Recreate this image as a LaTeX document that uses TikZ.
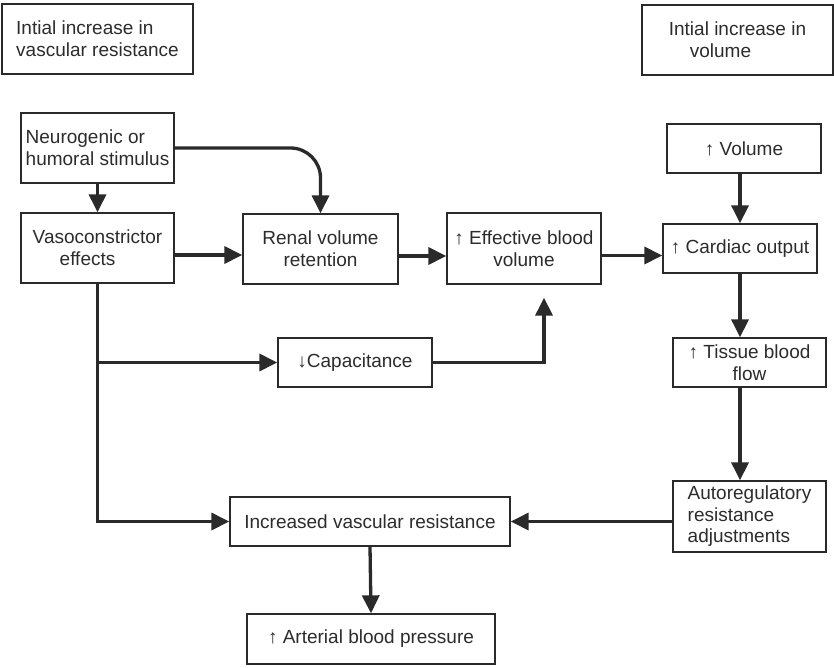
\documentclass[tikz,border=0pt]{standalone}
\usepackage{fontspec}
\setmainfont{Liberation Sans}
\usetikzlibrary{arrows.meta,calc}
\definecolor{ink}{HTML}{2A2A2A}
\definecolor{txt}{HTML}{2C2C2C}
\tikzset{
  box/.style={draw=ink, line width=1.3pt, fill=white, text=txt, inner sep=0pt,
    font=\fontsize{19}{22}\selectfont},
  arr/.style={draw=ink, line width=3.3pt,
    -{Triangle[length=18pt,width=17pt]}},
}
% box by its corners: \boxat{name}{x1}{y1}{x2}{y2}{options}{text}
\newcommand\boxat[7]{%
  \node[box, #6, minimum width={(#4)-(#2)}, minimum height={(#5)-(#3)}]
    (#1) at ({((#2)+(#4))/2},{((#3)+(#5))/2}) {#7};}
\begin{document}
\begin{tikzpicture}[x=1pt,y=-1pt]
\useasboundingbox (0,0) rectangle (834,668);

% headings
\boxat{hA}{2}{4}{193}{74}{align=left}{Intial increase in\\vascular resistance}
\boxat{hB}{642}{5}{833}{75}{align=left}{Intial increase in\\\hspace*{21pt}volume}

% left chain
\boxat{neuro}{21}{113}{174}{183}{align=left}{Neurogenic or\\humoral stimulus}
\boxat{vaso}{21}{213}{174}{283}{align=left}{Vasoconstrictor\\\hspace*{27pt}effects}
\boxat{renal}{243}{214}{398}{284}{align=center}{Renal volume\\retention}
\boxat{eff}{447}{213}{601}{284}{align=center}{↑ Effective blood\\volume}
\boxat{cap}{278}{338}{432}{387}{}{↓Capacitance}

% right chain
\boxat{vol}{667}{124}{821}{173}{}{↑ Volume}
\boxat{card}{663}{224}{817}{273}{}{↑ Cardiac output}
\boxat{tissue}{673}{338}{826}{387}{align=center}{↑ Tissue blood\\flow}
\boxat{auto}{673}{481}{826}{552}{align=left,font=\fontsize{19}{21.5}\selectfont}{Autoregulatory\\resistance\\adjustments}

% outcome
\boxat{incr}{230}{497}{510}{546}{}{Increased vascular resistance}
\boxat{art}{247}{614}{495}{664}{}{↑ Arterial blood pressure}

% connectors
\draw[arr] (neuro) -- (vaso);
\draw[arr, rounded corners=30pt] (neuro.east) -| (renal.north);
\draw[arr] ([yshift=-7pt]vaso.east) -- ([yshift=-7pt]vaso.east -| renal.west);
\draw[arr] ([yshift=-7pt]renal.east) -- ([yshift=-7pt]renal.east -| eff.west);
\draw[arr] ([yshift=-7pt]eff.east) -- ([yshift=-7pt]eff.east -| card.west);
\draw[arr] (vol.south -| card.north) -- (card.north);
\draw[arr] (card.south) -- (card.south |- tissue.north);
\draw[arr] (card.south |- tissue.south) -- (card.south |- auto.north);
\draw[arr] (auto.west |- incr.east) -- (incr.east);
\draw[arr] (vaso.south) |- (incr.west);
\draw[arr] (vaso.south |- cap.west) -- (cap.west);
\draw[arr] (cap.east) -| ([xshift=20pt,yshift=-13pt]eff.south);
\draw[arr] (incr.south) -- (art.north);
\end{tikzpicture}
\end{document}
